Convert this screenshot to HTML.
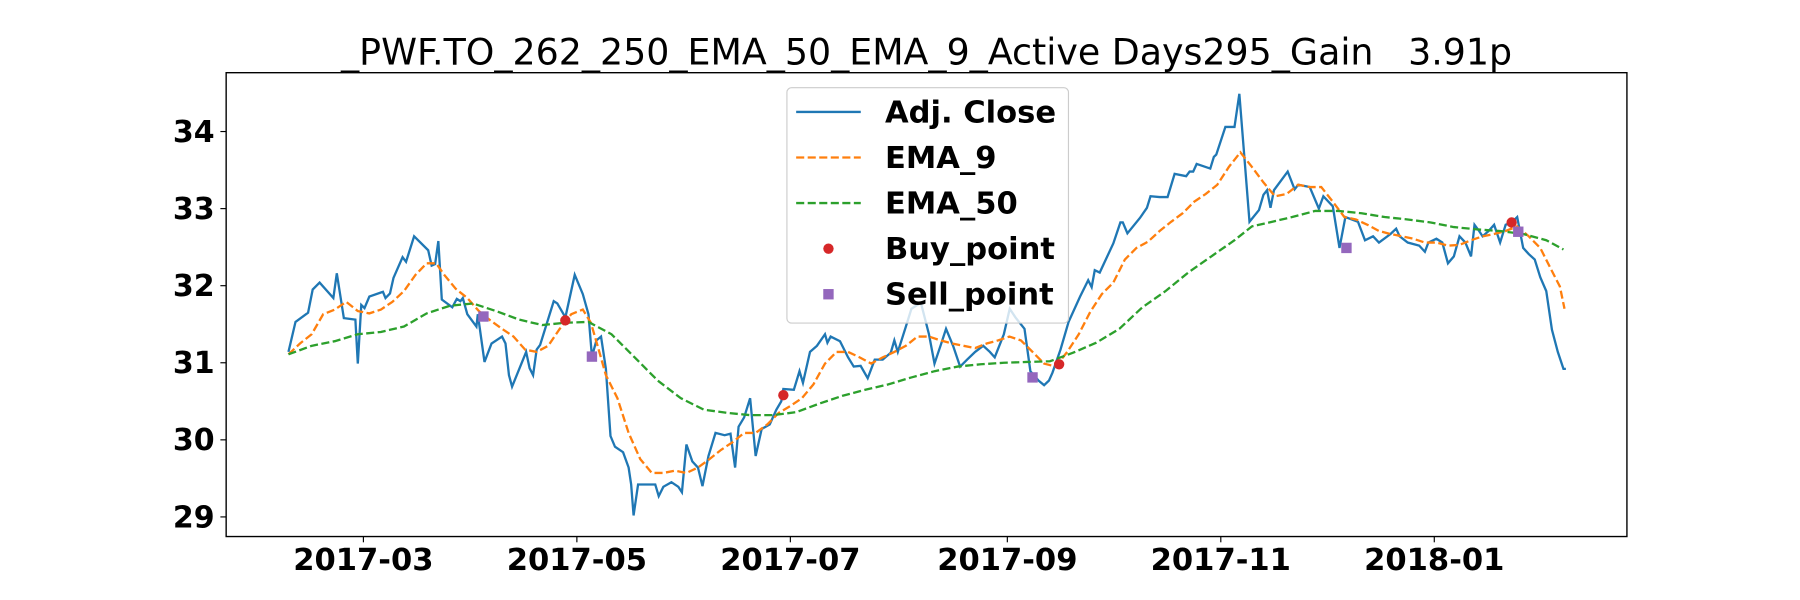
<!DOCTYPE html>
<html><head><meta charset="utf-8"><style>
html,body{margin:0;padding:0;background:#fff;}
svg{display:block;font-family:"DejaVu Sans","Liberation Sans",sans-serif;}
</style></head><body>
<svg id="chart" width="1800" height="600" viewBox="0 0 1560 520" xmlns="http://www.w3.org/2000/svg"></svg>
<script>
// day = days since 2017-01-01
const closeDays=[37.6,39.6,43.2,44.5,46.5,50.4,51.4,53.4,56.7,57.4,58.4,59.3,60.7,64.6,65.3,66.6,67.6,70.2,71.2,73.5,74.2,77.5,78.5,79.5,80.4,81.4,84.4,85.7,86.7,87.4,88.7,91.3,91.7,93.6,95.6,98.6,99.6,100.6,101.5,105.5,106.5,107.5,108.5,109.5,113.4,114.4,116.7,119.4,121.7,123.3,124.3,125.6,126.9,128.3,129.6,130.9,133.2,134.8,135.5,136.2,137.5,139.1,142.4,143.4,144.7,147.0,149.0,150.0,151.3,153.0,154.6,155.9,157.6,159.6,162.2,163.9,165.2,166.2,167.8,169.5,171.1,172.8,175.1,177.0,178.4,179.0,182.0,183.6,184.6,186.6,188.6,190.9,191.6,192.5,195.2,197.5,199.1,201.1,203.1,205.1,207.4,209.7,210.7,211.7,214.0,215.6,218.3,220.6,222.2,223.9,225.5,227.5,229.5,231.5,233.8,236.1,238.0,239.4,242.0,243.7,245.3,247.9,249.6,251.9,253.5,254.9,255.9,258.2,260.5,263.8,266.1,267.1,268.0,269.4,273.3,275.3,276.0,277.3,280.9,282.9,283.9,286.5,288.8,290.8,294.1,295.1,296.1,297.1,301.0,302.0,302.7,305.3,307.9,309.3,312.2,314.9,316.2,317.2,318.2,319.2,323.1,325.1,326.1,329.4,332.0,333.3,336.0,337.9,339.6,343.2,345.2,347.5,349.2,352.5,354.1,355.1,357.4,360.7,362.3,363.3,365.6,367.3,368.9,370.6,372.2,373.9,375.5,376.5,377.8,378.8,380.5,382.1,383.8,385.4,387.1,388.7,390.4,392.0,393.7,395.3,397.0,398.6,400.3,401.9,402.6];
const closeVals=[31.14,31.53,31.65,31.95,32.04,31.84,32.16,31.58,31.56,30.99,31.75,31.71,31.86,31.92,31.84,31.90,32.10,32.37,32.31,32.64,32.61,32.46,32.26,32.28,32.58,31.82,31.72,31.83,31.80,31.84,31.63,31.47,31.63,31.01,31.25,31.34,31.25,30.84,30.69,31.14,30.93,30.84,31.17,31.23,31.80,31.77,31.59,32.14,31.89,31.63,31.08,31.29,31.34,30.92,30.05,29.91,29.84,29.64,29.42,29.02,29.42,29.42,29.42,29.27,29.39,29.45,29.39,29.32,29.94,29.72,29.64,29.40,29.79,30.09,30.06,30.08,29.64,30.17,30.29,30.54,29.79,30.14,30.20,30.39,30.50,30.66,30.65,30.89,30.74,31.14,31.22,31.37,31.26,31.34,31.28,31.07,30.95,30.96,30.80,31.04,31.04,31.13,31.29,31.14,31.47,31.70,31.78,31.37,30.99,31.22,31.44,31.22,30.95,31.04,31.14,31.22,31.14,31.07,31.37,31.70,31.59,31.44,30.89,30.77,30.71,30.77,30.87,31.17,31.53,31.86,32.07,31.98,32.20,32.17,32.55,32.82,32.82,32.68,32.88,33.01,33.16,33.15,33.15,33.45,33.42,33.48,33.48,33.58,33.52,33.67,33.70,34.06,34.06,34.49,32.83,32.98,33.18,33.24,33.01,33.24,33.48,33.25,33.31,33.28,33.00,33.16,33.03,32.49,32.89,32.83,32.59,32.64,32.56,32.67,32.74,32.64,32.56,32.52,32.44,32.56,32.61,32.56,32.29,32.38,32.64,32.56,32.38,32.79,32.71,32.64,32.71,32.79,32.56,32.79,32.82,32.89,32.49,32.41,32.34,32.11,31.93,31.43,31.14,30.92,30.92];
const ema9Days=[37.6,40.9,44.2,47.5,50.8,54.1,57.4,60.7,64.0,67.3,70.6,73.9,77.1,79.8,82.1,85.4,88.7,92.0,95.3,98.6,101.9,105.2,108.5,111.8,115.1,118.4,121.7,124.0,125.9,128.3,131.6,134.8,138.1,141.4,144.7,148.0,151.3,154.6,157.9,161.2,164.5,167.8,171.1,174.4,177.7,181.0,184.3,187.6,190.9,194.2,197.5,200.8,204.1,207.4,210.7,214.0,217.3,220.6,223.9,227.2,230.5,233.8,237.1,240.4,243.6,246.9,250.2,253.5,256.8,260.1,263.4,266.7,270.0,273.3,276.6,279.9,283.2,286.5,289.8,293.1,296.4,299.7,303.0,306.3,309.6,312.9,316.2,319.5,322.8,326.1,329.4,332.7,336.0,339.3,342.6,345.9,349.2,352.5,355.8,359.0,362.3,365.6,368.9,372.2,375.5,378.8,382.1,385.4,388.7,392.0,395.3,398.6,400.9,402.2];
const ema9Vals=[31.11,31.25,31.37,31.63,31.69,31.79,31.67,31.64,31.69,31.79,31.93,32.14,32.29,32.29,32.14,31.96,31.84,31.67,31.55,31.44,31.34,31.17,31.14,31.22,31.44,31.63,31.69,31.52,31.22,30.84,30.54,30.09,29.75,29.57,29.57,29.60,29.57,29.64,29.75,29.87,29.97,30.09,30.09,30.20,30.35,30.44,30.54,30.72,30.99,31.14,31.14,31.07,30.99,31.07,31.14,31.22,31.34,31.34,31.29,31.25,31.22,31.19,31.25,31.29,31.34,31.29,31.14,30.99,30.95,31.14,31.37,31.66,31.89,32.04,32.34,32.49,32.57,32.71,32.83,32.94,33.09,33.19,33.31,33.54,33.73,33.54,33.34,33.16,33.19,33.31,33.28,33.28,33.09,32.89,32.86,32.79,32.71,32.67,32.64,32.61,32.56,32.56,32.52,32.53,32.59,32.64,32.67,32.71,32.77,32.64,32.49,32.19,31.99,31.70];
const ema50Days=[37.6,44.2,50.8,57.4,64.0,70.6,77.1,83.7,90.3,96.9,103.5,110.1,116.7,123.3,129.9,136.5,143.1,149.7,156.3,162.9,169.5,176.0,182.7,189.3,195.8,202.4,209.0,215.6,222.2,228.8,235.4,242.0,248.6,255.2,261.8,268.4,275.0,281.6,288.2,294.7,301.3,307.9,312.9,317.8,324.4,331.0,337.6,344.2,350.8,357.4,364.0,370.6,377.2,383.8,390.4,397.0,401.9];
const ema50Vals=[31.11,31.22,31.28,31.37,31.40,31.47,31.64,31.74,31.77,31.67,31.56,31.49,31.52,31.53,31.37,31.07,30.77,30.54,30.39,30.35,30.32,30.32,30.36,30.47,30.57,30.65,30.72,30.81,30.89,30.95,30.98,31.00,31.01,31.02,31.13,31.26,31.44,31.72,31.93,32.17,32.38,32.59,32.77,32.82,32.89,32.97,32.97,32.94,32.89,32.86,32.82,32.76,32.73,32.71,32.67,32.59,32.47];
const buyDays=[116.7,179.0,257.8,387.1];
const buyVals=[31.55,30.58,30.98,32.82];
const sellDays=[93.3,124.3,250.2,339.9,389.0];
const sellVals=[31.60,31.08,30.81,32.49,32.70];
const yTicks=[29,30,31,32,33,34];
const xTickDays=[59,120,181,243,304,365];
const xTickLabels=["2017-03","2017-05","2017-07","2017-09","2017-11","2018-01"];

const NS="http://www.w3.org/2000/svg";
const svg=document.getElementById('chart');
const X=d=>136+d*3.033;
const Y=v=>114+(34-v)*66.8;
function mk(tag,attrs,parent){const e=document.createElementNS(NS,tag);for(const k in attrs)e.setAttribute(k,attrs[k]);(parent||svg).appendChild(e);return e;}

const title=mk('text',{x:803,y:56,'text-anchor':'middle','font-size':31.5,style:'white-space:pre'});


title.textContent='_PWF.TO_262_250_EMA_50_EMA_9_Active Days295_Gain   3.91p';

function line(days,vals,attrs,name){
  const d=days.map((t,i)=>(i?'L':'M')+X(t).toFixed(1)+','+Y(vals[i]).toFixed(1)).join('');
  const p=mk('path',Object.assign({d:d,fill:'none'},attrs));
  
  
}
line(closeDays,closeVals,{stroke:'#1f77b4','stroke-width':2},'adj-close-line');
line(ema9Days,ema9Vals,{stroke:'#ff7f0e','stroke-width':2,'stroke-dasharray':'7,3'},'ema-9-line');
line(ema50Days,ema50Vals,{stroke:'#2ca02c','stroke-width':2,'stroke-dasharray':'7,3'},'ema-50-line');
buyDays.forEach((t,i)=>{const c=mk('circle',{cx:X(t),cy:Y(buyVals[i]),r:4.5,fill:'#d62728'});
  
  });
sellDays.forEach((t,i)=>{const r=mk('rect',{x:X(t)-4.5,y:Y(sellVals[i])-4.5,width:9,height:9,fill:'#9467bd'});
  
  });

const frame=mk('rect',{x:196,y:63,width:1214,height:402,fill:'none',stroke:'#000','stroke-width':1.2});



yTicks.forEach(v=>{mk('line',{x1:191,x2:196,y1:Y(v),y2:Y(v),stroke:'#000'});
  const t=mk('text',{x:186,y:Y(v)+9,'text-anchor':'end','font-size':26,'font-weight':'bold'});
  
  
  t.textContent=v;});
xTickDays.forEach((d,i)=>{mk('line',{x1:X(d),x2:X(d),y1:465,y2:470,stroke:'#000'});
  const t=mk('text',{x:X(d),y:494,'text-anchor':'middle','font-size':26.5,'font-weight':'bold'});
  
  
  t.textContent=xTickLabels[i];});

const lg=mk('g',{});


mk('rect',{x:682,y:76,width:244,height:204,rx:4,fill:'#fff','fill-opacity':0.8,stroke:'#ccc'},lg);
const entries=[['Adj. Close','#1f77b4','line'],['EMA_9','#ff7f0e','dash'],['EMA_50','#2ca02c','dash'],['Buy_point','#d62728','dot'],['Sell_point','#9467bd','sq']];
entries.forEach((e,i)=>{const cy=97+i*39.5;
  if(e[2]==='line')mk('line',{x1:690,x2:746,y1:cy,y2:cy,stroke:e[1],'stroke-width':2},lg);
  else if(e[2]==='dash')mk('line',{x1:690,x2:746,y1:cy,y2:cy,stroke:e[1],'stroke-width':2,'stroke-dasharray':'7,3'},lg);
  else if(e[2]==='dot')mk('circle',{cx:718,cy:cy,r:4.5,fill:e[1]},lg);
  else mk('rect',{x:713.5,y:cy-4.5,width:9,height:9,fill:e[1]},lg);
  const t=mk('text',{x:767,y:cy+9,'font-size':26.5,'font-weight':'bold'},lg);
  
  
  t.textContent=e[0];});
</script>
</body></html>
